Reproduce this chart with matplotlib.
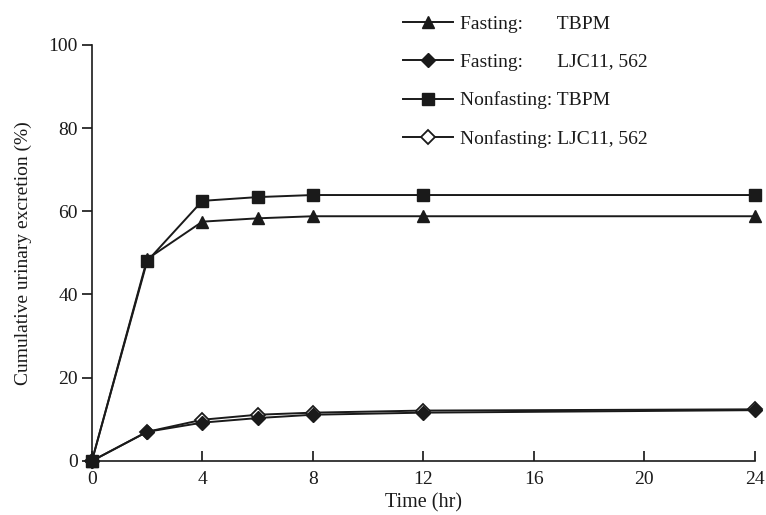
import matplotlib
matplotlib.use("Agg")
import matplotlib.pyplot as plt

# time points (hr)
hours = [0, 2, 4, 6, 8, 12, 24]

fasting_tbpm = [0, 48.5, 57.5, 58.3, 58.8, 58.8, 58.8]
fasting_ljc = [0, 7.0, 9.2, 10.3, 11.1, 11.6, 12.2]
nonfasting_tbpm = [0, 48.0, 62.5, 63.4, 63.9, 63.9, 63.9]
nonfasting_ljc = [0, 7.0, 9.9, 11.1, 11.6, 12.1, 12.4]

labels = [
    "Fasting:       TBPM",
    "Fasting:       LJC11, 562",
    "Nonfasting: TBPM",
    "Nonfasting: LJC11, 562",
]
x_ticks = [0, 4, 8, 12, 16, 20, 24]
y_ticks = [0, 20, 40, 60, 80, 100]

plt.rcParams["font.family"] = ["Liberation Serif", "DejaVu Serif"]

fig = plt.figure(figsize=(7.66, 5.15), dpi=100)
ax = fig.add_axes([0.120, 0.105, 0.865, 0.808])

common = dict(color="#1a1a1a", linewidth=1.4, clip_on=False)
l1, = ax.plot(hours, fasting_tbpm, marker="^", markersize=9, zorder=3, **common)
l2, = ax.plot(hours, fasting_ljc, marker="D", markersize=7.5, zorder=3, **common)
l4, = ax.plot(hours, nonfasting_ljc, marker="D", markersize=7.5, markerfacecolor="white",
              markeredgewidth=1.3, zorder=2, **common)
l3, = ax.plot(hours, nonfasting_tbpm, marker="s", markersize=8, zorder=4, **common)

ax.set_xlim(0, 24)
ax.set_ylim(0, 100)
ax.set_xticks(x_ticks)
ax.set_yticks(y_ticks)
ax.spines["top"].set_visible(False)
ax.spines["right"].set_visible(False)
for s in ("left", "bottom"):
    ax.spines[s].set_linewidth(1.2)
    ax.spines[s].set_color("#1a1a1a")
ax.tick_params(axis="x", direction="in", length=7, width=1.1, labelsize=14, pad=7,
               labelcolor="#1a1a1a")
ax.tick_params(axis="y", direction="out", length=7, width=1.1, labelsize=14, pad=3,
               labelcolor="#1a1a1a")

ax.set_xlabel("Time (hr)", fontsize=14.5, labelpad=4, color="#1a1a1a")
ax.set_ylabel("Cumulative urinary excretion (%)", fontsize=14, labelpad=12, color="#1a1a1a")

leg = fig.legend([l1, l2, l3, l4], labels, loc="upper left", bbox_to_anchor=(0.526, 0.970),
                 frameon=False, fontsize=14, handlelength=2.6, handletextpad=0.36,
                 labelspacing=1.05, borderaxespad=0, borderpad=0)
for t in leg.get_texts():
    t.set_color("#1a1a1a")

fig.savefig("out.png", dpi=100)
